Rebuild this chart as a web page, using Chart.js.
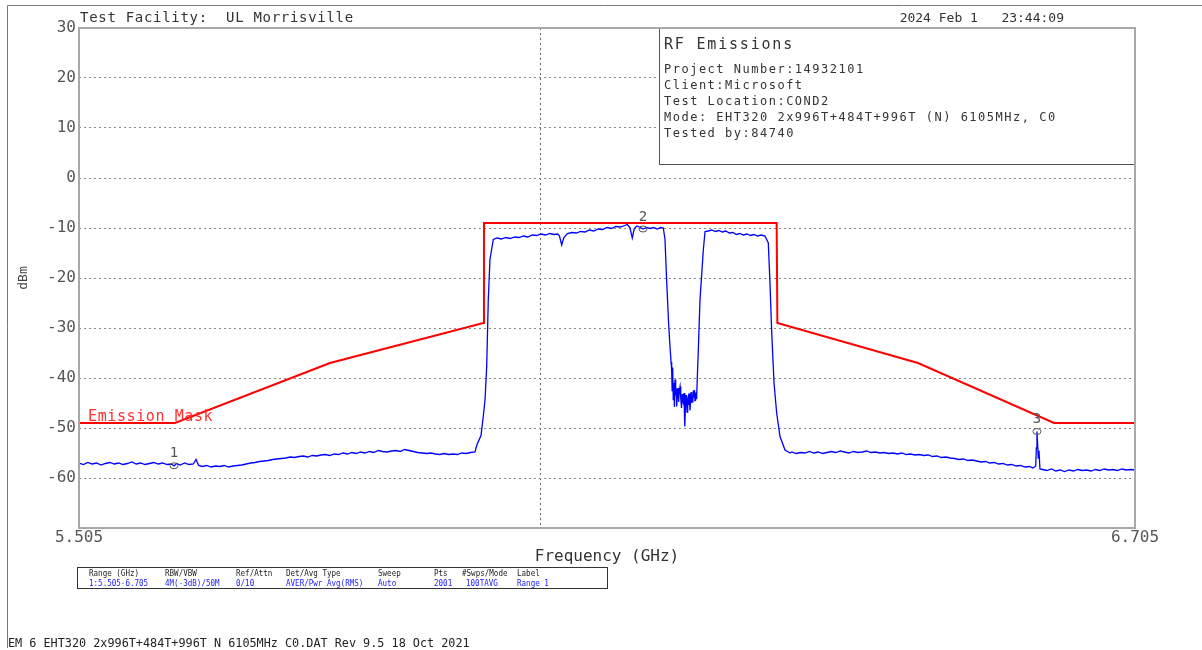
<!DOCTYPE html>
<html><head><meta charset="utf-8">
<style>html,body{margin:0;padding:0;background:#fff;}canvas{display:block}</style>
<script src="https://cdn.jsdelivr.net/npm/chart.js@4.4.1/dist/chart.umd.min.js"></script>
</head><body>
<canvas id="c" width="1202" height="650"></canvas>
<script>
// ---------------- DATA ----------------
const traceFreqGHz = [
5.505,5.510,5.515,5.520,5.525,5.530,5.535,5.540,5.545,5.550,5.555,5.560,5.565,5.570,5.575,5.580,5.585,5.590,5.595,5.600,
5.605,5.610,5.613,5.616,5.620,5.625,5.630,5.635,5.638,5.641,5.645,5.650,5.655,5.660,5.665,5.670,5.675,5.680,5.685,5.690,
5.695,5.700,5.705,5.710,5.715,5.720,5.725,5.730,5.735,5.740,5.745,5.750,5.755,5.760,5.765,5.770,5.775,5.780,5.785,5.790,
5.795,5.800,5.805,5.810,5.815,5.820,5.825,5.830,5.835,5.840,5.845,5.850,5.855,5.860,5.865,5.870,5.875,5.880,5.885,5.890,
5.895,5.900,5.905,5.910,5.915,5.920,5.925,5.930,5.935,5.940,5.945,5.950,5.955,5.9573,5.9618,5.9644,5.9664,5.9683,5.9701,5.9720,
5.9758,5.980,5.985,5.990,5.995,6.000,6.005,6.010,6.015,6.020,6.025,6.030,6.035,6.040,6.045,6.049,6.051,6.0535,6.056,6.060,
6.065,6.070,6.075,6.080,6.085,6.090,6.095,6.100,6.105,6.110,6.115,6.120,6.125,6.128,6.131,6.1337,6.136,6.139,6.143,6.146,
6.150,6.154,6.158,6.162,6.166,6.169,6.1709,6.1729,6.1750,6.1765,6.1778,6.1785,6.1790,6.1796,6.1803,6.1810,6.1816,6.1823,6.1830,6.1836,
6.1842,6.1849,6.1857,6.1864,6.1871,6.1880,6.1888,6.1897,6.1905,6.1911,6.1917,6.1925,6.1931,6.1936,6.1942,6.1948,6.1953,6.1960,6.1967,6.1974,
6.1980,6.1986,6.1993,6.2000,6.2006,6.2012,6.2018,6.2025,6.2031,6.2037,6.2044,6.2050,6.2056,6.2062,6.2069,6.2076,6.2088,6.2107,6.2145,6.2164,
6.220,6.224,6.228,6.232,6.236,6.240,6.244,6.248,6.252,6.256,6.260,6.264,6.268,6.272,6.276,6.280,6.2845,6.2883,6.2902,6.2922,
6.2948,6.2978,6.3016,6.3073,6.3130,6.315,6.320,6.325,6.330,6.335,6.340,6.345,6.350,6.355,6.360,6.365,6.370,6.375,6.380,6.385,
6.390,6.395,6.400,6.405,6.410,6.415,6.420,6.425,6.430,6.435,6.440,6.445,6.450,6.455,6.460,6.465,6.470,6.475,6.480,6.485,
6.490,6.495,6.500,6.505,6.510,6.515,6.520,6.525,6.530,6.535,6.540,6.545,6.550,6.555,6.560,6.565,6.570,6.575,6.580,6.585,
6.589,6.5922,6.5929,6.5936,6.5944,6.5951,6.5959,6.5970,6.600,6.605,6.610,6.615,6.620,6.625,6.630,6.635,6.640,6.645,6.650,6.655,
6.660,6.665,6.670,6.675,6.680,6.685,6.690,6.695,6.700,6.705
];
const traceLevelDbm = [
-57.0,-57.3,-56.9,-57.2,-57.0,-57.4,-57.1,-56.9,-57.2,-57.0,-57.3,-57.1,-56.8,-57.2,-57.0,-57.3,-57.1,-56.9,-57.2,-57.0,
-57.3,-57.2,-57.6,-57.1,-57.4,-57.0,-57.3,-57.2,-56.3,-57.5,-57.7,-57.5,-57.8,-57.6,-57.7,-57.5,-57.8,-57.6,-57.5,-57.4,
-57.2,-57.0,-56.9,-56.7,-56.6,-56.5,-56.3,-56.2,-56.1,-56.0,-55.8,-55.9,-55.7,-55.6,-55.8,-55.5,-55.6,-55.4,-55.3,-55.5,
-55.2,-55.3,-55.0,-55.2,-54.9,-55.1,-54.8,-55.0,-54.7,-54.9,-54.5,-54.7,-54.8,-54.6,-54.5,-54.7,-54.3,-54.5,-54.7,-54.9,
-55.0,-55.1,-55.0,-55.2,-55.3,-55.1,-55.3,-55.2,-55.3,-55.0,-55.1,-54.9,-54.8,-53.3,-51.5,-47.7,-44.3,-37.7,-24.3,-16.3,
-12.3,-12.0,-12.2,-11.9,-12.1,-11.8,-11.9,-11.6,-11.8,-11.4,-11.5,-11.2,-11.4,-11.1,-11.3,-11.2,-11.6,-13.4,-11.9,-11.1,
-10.9,-11.0,-10.7,-10.8,-10.4,-10.6,-10.2,-10.3,-9.9,-10.1,-9.7,-9.8,-9.5,-9.3,-9.9,-12.0,-10.1,-9.6,-9.9,-10.2,
-9.9,-10.1,-9.9,-10.2,-9.9,-10.0,-12.3,-21.0,-29.0,-33.5,-36.8,-38.5,-42.5,-37.9,-44.3,-41.0,-45.8,-40.3,-43.5,-42.1,
-45.7,-43.0,-42.0,-44.8,-42.6,-41.7,-44.1,-46.0,-43.2,-44.7,-45.0,-43.0,-46.2,-49.7,-45.5,-43.4,-44.0,-46.8,-44.2,-43.7,
-45.4,-43.1,-46.5,-44.3,-42.8,-45.0,-43.6,-44.9,-42.5,-43.9,-42.4,-44.5,-42.9,-44.1,-43.7,-40.0,-34.3,-24.3,-14.3,-10.7,
-10.6,-10.4,-10.7,-10.5,-10.8,-10.6,-11.0,-10.9,-11.3,-11.1,-11.4,-11.2,-11.5,-11.3,-11.6,-11.4,-11.6,-13.0,-21.0,-31.0,
-41.0,-47.0,-51.7,-54.4,-55.0,-54.8,-55.1,-54.9,-55.0,-54.7,-55.0,-54.8,-55.1,-54.9,-54.7,-54.9,-54.6,-54.8,-55.0,-54.7,
-54.9,-54.8,-54.6,-54.9,-54.8,-55.0,-54.9,-55.1,-55.0,-55.2,-55.0,-55.3,-55.2,-55.4,-55.3,-55.5,-55.4,-55.7,-55.6,-55.9,
-55.8,-56.0,-56.1,-56.3,-56.2,-56.5,-56.4,-56.6,-56.8,-56.7,-57.0,-56.9,-57.2,-57.1,-57.4,-57.3,-57.6,-57.5,-57.8,-57.7,
-58.0,-57.6,-54.0,-50.7,-53.5,-56.0,-54.5,-58.2,-58.3,-58.5,-58.2,-58.6,-58.4,-58.7,-58.4,-58.6,-58.3,-58.5,-58.4,-58.6,
-58.3,-58.5,-58.2,-58.4,-58.3,-58.5,-58.2,-58.4,-58.3,-58.4
];
const maskFreqGHz  = [5.505, 5.6141, 5.7902, 5.9644, 5.9652, 6.2978, 6.2986, 6.4584, 6.6130, 6.705];
const maskLevelDbm = [-49, -49, -37, -29, -9, -9, -29, -37, -49, -49];
const maskLabel = 'Emission Mask';

const xRangeGHz = [5.505, 6.705];
const centerLineGHz = 6.029;
const yRangeDbm = [-70, 30];
const yStepDb = 10;

const markerFreqGHz = [5.613, 6.1459, 6.5936];
const markerLevelDbm = [-57.56, -10.2, -50.7];
const markerLabels = ['1', '2', '3'];

const headerLeft = 'Test Facility:  UL Morrisville';
const headerRight = '2024 Feb 1   23:44:09';
const infoTitle = 'RF Emissions';
const infoLines = ['Project Number:14932101', 'Client:Microsoft', 'Test Location:COND2',
  'Mode: EHT320 2x996T+484T+996T (N) 6105MHz, C0', 'Tested by:84740'];
const yTitle = 'dBm';
const xTitle = 'Frequency (GHz)';
const tableHeaders = ['Range (GHz)', 'RBW/VBW', 'Ref/Attn', 'Det/Avg Type', 'Sweep', 'Pts', '#Swps/Mode', 'Label'];
const tableValues = ['1:5.505-6.705', '4M(-3dB)/50M', '0/10', 'AVER/Pwr Avg(RMS)', 'Auto', '2001', '100TAVG', 'Range 1'];
const footerText = 'EM 6 EHT320 2x996T+484T+996T N 6105MHz C0.DAT Rev 9.5 18 Oct 2021';

// ---------------- LAYOUT ----------------
const MONO = '"DejaVu Sans Mono", "Liberation Mono", monospace';
const tableColX = [89, 165, 236, 286, 378, 434, 462, 517];
const tableValX = [89, 165, 236, 286, 378, 434, 466, 517];

const toXY = (xs, ys) => xs.map((v, i) => ({x: v, y: ys[i]}));

const decor = {
  id: 'decor',
  beforeDraw(chart) {
    const ctx = chart.ctx;
    ctx.save(); ctx.fillStyle = '#fff'; ctx.fillRect(0, 0, chart.width, chart.height); ctx.restore();
  },
  afterDatasetsDraw(chart) {
    const {ctx, chartArea: ca, scales: {x, y}} = chart;
    ctx.save();
    // info box
    const bx = 659, by = ca.top, bw = ca.right - 659, bh = 164 - ca.top;
    ctx.fillStyle = '#fff'; ctx.fillRect(bx, by, bw, bh);
    ctx.strokeStyle = '#555'; ctx.lineWidth = 1;
    ctx.strokeRect(bx + 0.5, by + 0.5, bw - 1, bh);
    ctx.fillStyle = '#333'; ctx.textBaseline = 'alphabetic'; ctx.textAlign = 'left';
    ctx.font = '15px ' + MONO; ctx.letterSpacing = '1.8px';
    ctx.fillText(infoTitle, 664, 48.5);
    ctx.font = '12px ' + MONO; ctx.letterSpacing = '1.5px';
    infoLines.forEach((t, i) => ctx.fillText(t, 664, 72.5 + i * 16));
    // mask label
    ctx.fillStyle = '#ff3030'; ctx.font = '15px ' + MONO; ctx.letterSpacing = '0.6px';
    ctx.fillText(maskLabel, 88, 421);
    // markers
    ctx.letterSpacing = '0px';
    ctx.strokeStyle = '#555'; ctx.fillStyle = '#555'; ctx.lineWidth = 1;
    ctx.font = '14px ' + MONO; ctx.textAlign = 'center'; ctx.textBaseline = 'middle';
    markerFreqGHz.forEach((f, i) => {
      const px = x.getPixelForValue(f), py = y.getPixelForValue(markerLevelDbm[i]);
      ctx.beginPath(); ctx.ellipse(px, py, 4, 3, 0, 0, Math.PI * 2); ctx.stroke();
      ctx.fillText(markerLabels[i], px, py - 12);
    });
    ctx.restore();
  },
  afterDraw(chart) {
    const {ctx, chartArea: ca} = chart;
    ctx.save();
    // plot frame
    ctx.strokeStyle = '#a8a8a8'; ctx.lineWidth = 2;
    ctx.strokeRect(ca.left, ca.top, ca.right - ca.left, ca.bottom - ca.top);
    // outer page frame
    ctx.strokeStyle = '#777'; ctx.lineWidth = 1;
    ctx.beginPath(); ctx.moveTo(7.5, 648); ctx.lineTo(7.5, 5.5); ctx.lineTo(1202, 5.5); ctx.stroke();
    // header
    ctx.fillStyle = '#333'; ctx.textBaseline = 'alphabetic';
    ctx.font = '14px ' + MONO; ctx.letterSpacing = '0.7px';
    ctx.textAlign = 'left'; ctx.fillText(headerLeft, 80, 22);
    ctx.letterSpacing = '0px'; ctx.font = '13px ' + MONO;
    ctx.textAlign = 'right'; ctx.fillText(headerRight, 1064, 22);
    // table
    ctx.strokeStyle = '#333'; ctx.lineWidth = 1;
    ctx.strokeRect(77.5, 567.5, 530, 21);
    ctx.textAlign = 'left'; ctx.letterSpacing = '0px';
    ctx.font = '9px ' + MONO;
    const sx = 0.84;
    ctx.save(); ctx.scale(sx, 1);
    ctx.fillStyle = '#222';
    tableHeaders.forEach((t, i) => ctx.fillText(t, tableColX[i] / sx, 576));
    ctx.fillStyle = '#1a1aff';
    tableValues.forEach((t, i) => ctx.fillText(t, tableValX[i] / sx, 586));
    ctx.restore();
    // footer
    ctx.fillStyle = '#222'; ctx.font = '11.8px ' + MONO;
    ctx.fillText(footerText, 8, 647);
    ctx.restore();
  }
};

new Chart(document.getElementById('c'), {
  type: 'line',
  data: {
    datasets: [
      {data: toXY(traceFreqGHz, traceLevelDbm), borderColor: '#0000ff', borderWidth: 1.3, pointRadius: 0, tension: 0, order: 2},
      {data: toXY(maskFreqGHz, maskLevelDbm), borderColor: '#ff0000', borderWidth: 2, pointRadius: 0, tension: 0, order: 1}
    ]
  },
  options: {
    responsive: false, animation: false, devicePixelRatio: 1,
    layout: {padding: {top: 28, right: 67, bottom: 85, left: 0}},
    plugins: {legend: {display: false}, tooltip: {enabled: false}},
    scales: {
      x: {
        type: 'linear', min: xRangeGHz[0], max: xRangeGHz[1],
        afterBuildTicks: s => { s.ticks = [{value: xRangeGHz[0]}, {value: centerLineGHz}, {value: xRangeGHz[1]}]; },
        afterFit: s => { s.height = 37; },
        ticks: {autoSkip: false, maxRotation: 0, padding: 0, color: '#555', font: {family: MONO, size: 16},
          callback: v => (v === centerLineGHz ? '' : v.toFixed(3))},
        grid: {drawTicks: false, lineWidth: 1,
          color: c => (c.tick && c.tick.value === centerLineGHz ? '#666' : 'rgba(0,0,0,0)')},
        border: {display: false, dash: [2, 3]},
        title: {display: true, text: xTitle, color: '#333', font: {family: MONO, size: 16}, padding: {top: 0, bottom: -1}}
      },
      y: {
        min: yRangeDbm[0], max: yRangeDbm[1],
        afterFit: s => { s.width = 79; },
        ticks: {stepSize: yStepDb, padding: 3, color: '#555', font: {family: MONO, size: 16},
          callback: v => (v === yRangeDbm[0] ? '' : String(v))},
        grid: {drawTicks: false, lineWidth: 1,
          color: c => (c.tick && (c.tick.value === yRangeDbm[0] || c.tick.value === yRangeDbm[1]) ? 'rgba(0,0,0,0)' : '#888')},
        border: {display: false, dash: [2, 3]},
        title: {display: true, text: yTitle, color: '#444', font: {family: MONO, size: 13}, padding: {top: 16, bottom: 0}}
      }
    }
  },
  plugins: [decor]
});
</script>
</body></html>
